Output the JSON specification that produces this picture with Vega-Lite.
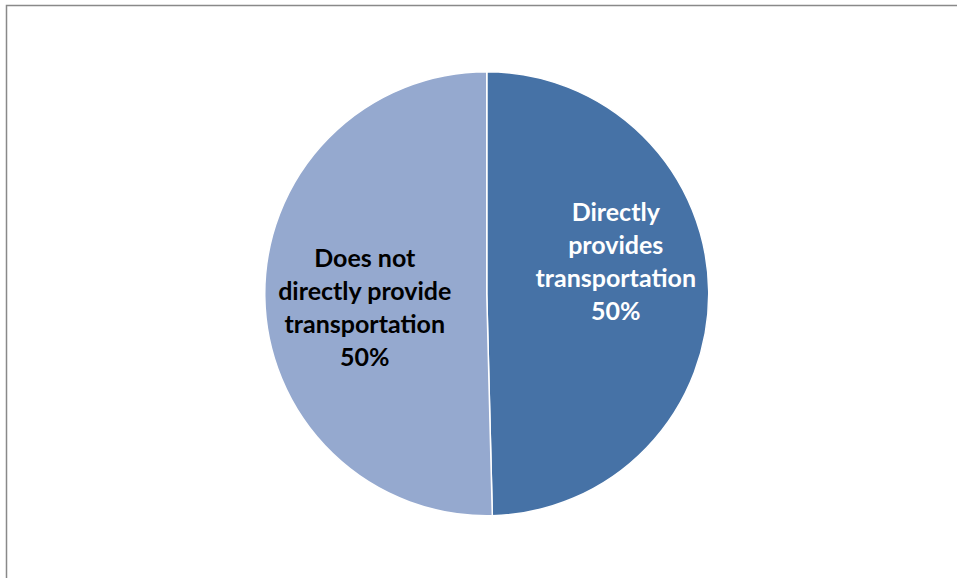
{
  "$schema": "https://vega.github.io/schema/vega-lite/v6.json",
  "width": 957,
  "height": 578,
  "autosize": {"type": "fit", "contains": "padding"},
  "padding": {"left": 6.5, "top": 5.5, "right": -5, "bottom": -5},
  "background": "white",
  "view": {"stroke": "#898989", "strokeWidth": 1.5, "fill": "white"},
  "data": {
    "values": [
      {"category": "Directly provides transportation", "value": 49.6, "order": 1, "label": "Directly\nprovides\ntransportation\n50%"},
      {"category": "Does not directly provide transportation", "value": 50.4, "order": 2, "label": "Does not\ndirectly provide\ntransportation\n50%"}
    ]
  },
  "encoding": {
    "theta": {"field": "value", "type": "quantitative", "stack": true},
    "order": {"field": "order", "type": "ordinal"}
  },
  "layer": [
    {
      "mark": {"type": "arc", "outerRadius": 222, "stroke": "white", "strokeWidth": 1.5, "xOffset": 2.5, "yOffset": -0.5},
      "encoding": {
        "color": {
          "field": "category",
          "type": "nominal",
          "scale": {"domain": ["Directly provides transportation", "Does not directly provide transportation"], "range": ["#4672A6", "#95A9CF"]},
          "legend": null
        }
      }
    },
    {
      "mark": {"type": "text", "radius": 134, "xOffset": 2.5, "yOffset": -0.5, "dx": -5, "dy": -79, "font": "Lato", "fontWeight": "bold", "fontSize": 25, "lineHeight": 33, "lineBreak": "\n", "align": "center", "baseline": "middle", "fill": "white"},
      "encoding": {"text": {"condition": {"test": "datum.order == 1", "field": "label"}, "value": ""}}
    },
    {
      "mark": {"type": "text", "radius": 121, "xOffset": 2.5, "yOffset": -0.5, "dx": -1, "dy": -36.5, "font": "Lato", "fontWeight": "bold", "fontSize": 25, "lineHeight": 33, "lineBreak": "\n", "align": "center", "baseline": "middle", "fill": "black"},
      "encoding": {"text": {"condition": {"test": "datum.order == 2", "field": "label"}, "value": ""}}
    }
  ]
}
